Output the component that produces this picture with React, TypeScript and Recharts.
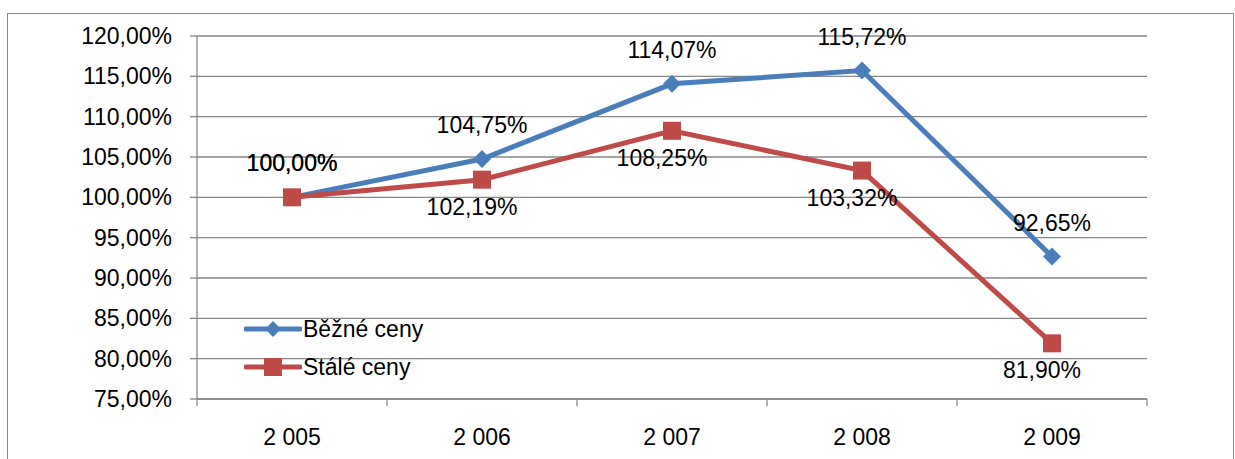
import React from 'react';
import { LineChart, Line, XAxis, YAxis, CartesianGrid, Legend } from 'recharts';

const years = ['2 005', '2 006', '2 007', '2 008', '2 009'];
const bezneCeny = [100.0, 104.75, 114.07, 115.72, 92.65];
const staleCeny = [100.0, 102.19, 108.25, 103.32, 81.9];
const yTicks = [75, 80, 85, 90, 95, 100, 105, 110, 115, 120];
const seriesNames = ['Běžné ceny', 'Stálé ceny'];

const data = years.map((year, i) => ({ year, bezne: bezneCeny[i], stale: staleCeny[i] }));

const W = 1235;
const H = 459;
const Y_AXIS_W = 197;
const RIGHT_M = 88;
const PLOT_W = W - Y_AXIS_W - RIGHT_M;
const HALF_BAND = PLOT_W / years.length / 2;
const FONT = '"Liberation Sans", Arial, sans-serif';
const FS = 23;
const GRID = '#878787';
const BLUE = '#4A7EBB';
const RED = '#BE4B48';

const fmt = (v: number) => v.toFixed(2).replace('.', ',') + '%';

const Diamond = (props: any) => {
  const { cx, cy } = props;
  if (cx == null || cy == null) return null;
  const r = 9;
  return <polygon points={`${cx},${cy - r} ${cx + r},${cy} ${cx},${cy + r} ${cx - r},${cy}`} fill={BLUE} />;
};

const Square = (props: any) => {
  const { cx, cy } = props;
  if (cx == null || cy == null) return null;
  const s = 18;
  return <rect x={cx - s / 2} y={cy - s / 2} width={s} height={s} fill={RED} />;
};

const BlueLabel = (props: any) => {
  const { x, y, value } = props;
  return (
    <text x={x} y={y - 34} textAnchor="middle" dominantBaseline="central" fontSize={FS} fontFamily={FONT} fill="#000">
      {fmt(value)}
    </text>
  );
};

const RedLabel = (props: any) => {
  const { x, y, value, index } = props;
  const above = index === 0;
  return (
    <text
      x={above ? x : x - 10}
      y={above ? y - 34 : y + 27}
      textAnchor="middle"
      dominantBaseline="central"
      fontSize={FS}
      fontFamily={FONT}
      fill="#000"
    >
      {fmt(value)}
    </text>
  );
};

const XTick = (props: any) => {
  const { x, y, payload, index } = props;
  const last = index === years.length - 1;
  return (
    <g>
      <line x1={x - HALF_BAND} y1={y} x2={x - HALF_BAND} y2={y + 7} stroke={GRID} strokeWidth={1.3} />
      {last && <line x1={x + HALF_BAND} y1={y} x2={x + HALF_BAND} y2={y + 7} stroke={GRID} strokeWidth={1.3} />}
      <text x={x} y={y + 38} textAnchor="middle" dominantBaseline="central" fontSize={FS} fontFamily={FONT} fill="#000">
        {payload.value}
      </text>
    </g>
  );
};

const LegendContent = () => {
  const rows = [
    { name: seriesNames[0], color: BLUE, kind: 'diamond' },
    { name: seriesNames[1], color: RED, kind: 'square' },
  ];
  return (
    <div style={{ fontFamily: FONT, fontSize: FS, color: '#000' }}>
      {rows.map((r) => (
        <div key={r.name} style={{ display: 'flex', alignItems: 'center', height: 38 }}>
          <svg width={58} height={24} style={{ display: 'block' }}>
            <line x1={2} y1={12} x2={56} y2={12} stroke={r.color} strokeWidth={5} strokeLinecap="round" />
            {r.kind === 'diamond' ? (
              <polygon points="29,4 37,12 29,20 21,12" fill={r.color} />
            ) : (
              <rect x={20} y={3} width={18} height={18} fill={r.color} />
            )}
          </svg>
          <span style={{ marginLeft: 1 }}>{r.name}</span>
        </div>
      ))}
    </div>
  );
};

export default function App() {
  return (
    <div style={{ position: 'absolute', left: 0, top: 0, width: W, height: H, overflow: 'hidden', background: '#fff' }}>
      <div
        style={{
          position: 'absolute',
          left: 7,
          top: 13,
          width: 1227,
          height: 470,
          border: '1.5px solid #8a8a8a',
          boxSizing: 'border-box',
        }}
      />
      <div style={{ position: 'absolute', left: 0, top: 0 }}>
        <LineChart width={W} height={H} data={data} margin={{ top: 36, right: RIGHT_M, left: 0, bottom: 0 }}>
          <CartesianGrid vertical={false} stroke={GRID} strokeWidth={1.3} />
          <XAxis
            dataKey="year"
            height={60}
            padding={{ left: HALF_BAND, right: HALF_BAND }}
            axisLine={{ stroke: GRID, strokeWidth: 1.3 }}
            tickLine={false}
            tickSize={0}
            tickMargin={0}
            tick={<XTick />}
            interval={0}
          />
          <YAxis
            width={Y_AXIS_W}
            domain={[75, 120]}
            ticks={yTicks}
            interval={0}
            tickFormatter={fmt}
            axisLine={{ stroke: GRID, strokeWidth: 1.3 }}
            tickLine={{ stroke: GRID, strokeWidth: 1.3 }}
            tickSize={7}
            tickMargin={18}
            tick={{ fontSize: FS, fontFamily: FONT, fill: '#000' }}
          />
          <Legend
            layout="vertical"
            align="center"
            verticalAlign="middle"
            wrapperStyle={{ left: 244, top: 310, width: 'auto' }}
            content={<LegendContent />}
          />
          <Line
            dataKey="bezne"
            name={seriesNames[0]}
            stroke={BLUE}
            strokeWidth={5}
            dot={<Diamond />}
            activeDot={false}
            label={<BlueLabel />}
            isAnimationActive={false}
          />
          <Line
            dataKey="stale"
            name={seriesNames[1]}
            stroke={RED}
            strokeWidth={5}
            dot={<Square />}
            activeDot={false}
            label={<RedLabel />}
            isAnimationActive={false}
          />
        </LineChart>
      </div>
    </div>
  );
}
